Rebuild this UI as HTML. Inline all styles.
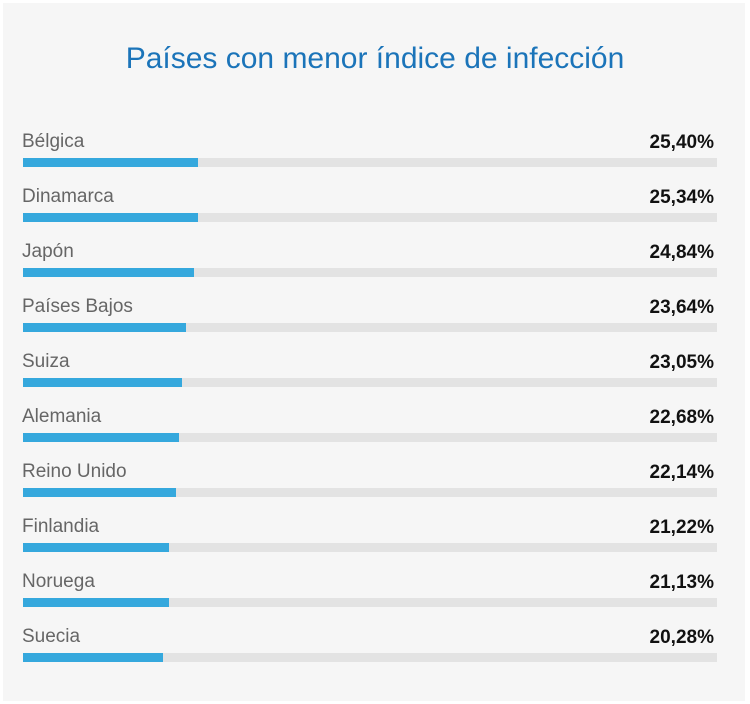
<!DOCTYPE html>
<html><head><meta charset="utf-8"><style>
body{margin:0;background:#fff;width:750px;height:704px;overflow:hidden;font-family:"Liberation Sans",sans-serif}
#panel{position:absolute;left:3px;top:3px;width:742px;height:698px;background:#f6f6f6}
#title{position:absolute;left:0;top:42px;width:750px;text-align:center;font-size:30px;color:#1b74b9}
.lbl{position:absolute;left:22px;font-size:19px;color:#666}
.val{position:absolute;right:36px;font-size:19px;font-weight:bold;color:#111}
.track{position:absolute;left:23px;width:694px;height:9px;background:#e3e3e3}
.fill{position:absolute;left:0;top:0;height:9px;background:#35a8dd}
</style></head><body>
<div id="panel"></div>
<div id="title">Países con menor índice de infección</div>
<div id="rows"></div>
<script>
const categories=["Bélgica","Dinamarca","Japón","Países Bajos","Suiza","Alemania","Reino Unido","Finlandia","Noruega","Suecia"];
const values=[25.40,25.34,24.84,23.64,23.05,22.68,22.14,21.22,21.13,20.28];
const valueLabels=["25,40%","25,34%","24,84%","23,64%","23,05%","22,68%","22,14%","21,22%","21,13%","20,28%"];
const x=v=>v*6.89;
const rows=document.getElementById('rows');
categories.forEach((c,i)=>{
  const top=128+i*55;
  const l=document.createElement('div');l.className='lbl';l.style.top=(top+3)+'px';l.textContent=c;
  
  
  const v=document.createElement('div');v.className='val';v.style.top=(top+4)+'px';v.textContent=valueLabels[i];
  
  
  const t=document.createElement('div');t.className='track';t.style.top=(top+30)+'px';
  
  
  const f=document.createElement('div');f.className='fill';f.style.width=x(values[i])+'px';
  
  
  t.appendChild(f);
  rows.appendChild(l);rows.appendChild(v);rows.appendChild(t);
});
</script>
</body></html>
